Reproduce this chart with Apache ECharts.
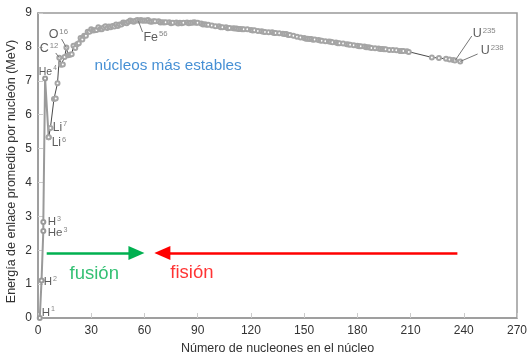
<!DOCTYPE html>
<html>
<head>
<meta charset="utf-8">
<script src="https://cdn.jsdelivr.net/npm/echarts@6/dist/echarts.min.js"></script>
<style>
html,body{margin:0;padding:0;background:#fff;}
#c{width:528px;height:354px;}
</style>
</head>
<body>
<div id="c"></div>
<script>
// Light nuclei (H1, H2, He3, H3, He4, Li6): [A, binding energy per nucleon MeV]
var lightA = [1, 2, 3, 3, 4, 6];
var lightE = [0, 1.11, 2.57, 2.83, 7.07, 5.33];

// Main curve from Li6 onward
var mainA = [6,7,9,10,11,12,13,14,15,16,17,18,19,20,21,22,23,24,25,26,27,28,29,30,31,32,33,34,35,36,37,38,39,40,41,42,43,44,45,46,47,48,49,50,51,52,53,54,55,56,57,58,59,60,61,62,63,64,65,66,
  68,69,70,71,72,74,75,76,78,79,80,81,82,84,85,86,87,88,89,90,92,93,94,95,96,98,100,102,103,104,106,107,108,110,111,112,113,114,115,116,118,120,121,122,124,126,127,128,130,132,133,134,136,138,139,140,141,142,144,146,148,150,151,152,153,154,155,156,158,159,160,162,164,165,166,168,169,170,172,174,175,176,178,180,181,182,184,185,186,187,188,190,192,193,194,195,196,198,200,202,204,205,206,208,209,
  222,226,230,232,234,235,238];
var mainE = [5.33,5.61,6.46,6.48,6.93,7.68,7.47,7.48,7.70,7.98,7.75,7.77,7.78,8.03,7.97,8.08,8.11,8.26,8.22,8.33,8.33,8.45,8.45,8.52,8.48,8.49,8.50,8.58,8.52,8.52,8.57,8.61,8.56,8.60,8.58,8.62,8.60,8.66,8.62,8.66,8.66,8.72,8.71,8.70,8.74,8.78,8.76,8.74,8.77,8.79,8.77,8.79,8.77,8.78,8.77,8.79,8.75,8.74,8.76,8.76,
  8.76,8.72,8.73,8.72,8.73,8.73,8.70,8.71,8.72,8.69,8.71,8.70,8.71,8.72,8.70,8.71,8.71,8.73,8.71,8.71,8.69,8.66,8.67,8.65,8.65,8.63,8.61,8.61,8.58,8.58,8.58,8.55,8.56,8.55,8.54,8.54,8.53,8.53,8.52,8.52,8.52,8.50,8.48,8.49,8.47,8.46,8.45,8.44,8.43,8.43,8.41,8.41,8.40,8.39,8.38,8.38,8.35,8.35,8.33,8.30,8.28,8.26,8.24,8.24,8.23,8.23,8.21,8.22,8.20,8.19,8.18,8.17,8.16,8.15,8.14,8.13,8.11,8.11,8.10,8.08,8.07,8.06,8.05,8.03,8.02,8.02,8.01,7.99,7.99,7.98,7.97,7.96,7.95,7.94,7.94,7.93,7.93,7.91,7.91,7.90,7.88,7.88,7.88,7.87,7.85,
  7.69,7.67,7.65,7.63,7.61,7.60,7.57];

// Nuclide labels: symbol, mass number (superscript), anchor [A, E] of label text
var nuclideSym = ['H','H','H','He','He','Li','Li','C','O','Fe','U','U'];
var nuclideSup = ['1','2','3','3','4','7','6','12','16','56','235','238'];
var nuclideAnchorA = [2.1, 3.2, 5.5, 5.5, 0.4, 8.3, 7.7, 1.0, 6.0, 59.4, 245, 249.5];
var nuclideAnchorE = [0.15, 1.06, 2.83, 2.5, 7.26, 5.63, 5.16, 7.94, 8.35, 8.29, 8.38, 7.88];
var nuclideFont = [11.5, 11.5, 11.5, 11.5, 10.5, 12, 12, 12.5, 12.5, 12.5, 12.5, 12.5];

// Leader lines: [fromA, fromE, toA, toE]
var leaders = [
  [10.0, 7.82, 12, 7.68],
  [13.3, 8.23, 16, 7.98],
  [56.6, 8.76, 58.9, 8.44],
  [235, 7.59, 244.5, 8.32],
  [238, 7.57, 247.8, 7.79]
];

// Process arrows: [fromA, toA, E] (toA = centre of the arrowhead)
var fusionArrow = [4.9, 55.5, 1.92];
var fissionArrow = [236.4, 70.1, 1.92];

// Text annotations
var notes = ['núcleos más estables', 'fusión', 'fisión'];
var noteA = [31.9, 17.8, 74.6];
var noteE = [7.43, 1.3, 1.33];

var xTicks = {min: 0, max: 270, interval: 30};
var yTicks = {min: 0, max: 9, interval: 1};

var FONT = 'Liberation Sans, Arial, sans-serif';
var chart = echarts.init(document.getElementById('c'), null, {renderer: 'canvas'});

function zip(a, b) { return a.map(function (v, i) { return [v, b[i]]; }); }

var labelData = nuclideSym.map(function (s, i) {
  var fs = nuclideFont[i];
  return {
    value: [nuclideAnchorA[i], nuclideAnchorE[i]],
    label: {
      formatter: '{b|' + s + '}{s|' + nuclideSup[i] + '}',
      rich: {
        b: {fontSize: fs, color: '#333', fontFamily: FONT, lineHeight: 14},
        s: {fontSize: fs * 0.62, color: '#666', fontFamily: FONT, lineHeight: 9, verticalAlign: 'top', padding: [0, 0, 0, 1]}
      }
    }
  };
});
var noteColors = ['#1673c9', '#00b050', '#ff0000'];
var noteSizes = [15.3, 18.5, 18.5];
var noteData = notes.map(function (t, i) {
  return {
    value: [noteA[i], noteE[i]],
    label: {formatter: t, color: noteColors[i], fontSize: noteSizes[i], fontFamily: FONT}
  };
});

var leaderLines = leaders.map(function (l) {
  return [{coord: [l[0], l[1]]}, {coord: [l[2], l[3]]}];
});

var option = {
  animation: false,
  backgroundColor: '#fff',
  grid: {left: 38, right: 11, top: 13, bottom: 36, show: true, borderColor: '#999', borderWidth: 1.5,
         containLabel: false, outerBoundsMode: 'none'},
  xAxis: {
    type: 'value', min: xTicks.min, max: xTicks.max, interval: xTicks.interval,
    name: 'Número de nucleones en el núcleo', nameLocation: 'middle', nameGap: 23,
    nameTextStyle: {color: '#333', fontSize: 12.5, fontFamily: FONT},
    axisLine: {show: true, lineStyle: {color: '#999', width: 1.5}},
    axisTick: {show: true, inside: true, length: 5, lineStyle: {color: '#ccc'}},
    axisLabel: {color: '#333', fontSize: 12, fontFamily: FONT, margin: 7},
    splitLine: {show: false}
  },
  yAxis: {
    type: 'value', min: yTicks.min, max: yTicks.max, interval: yTicks.interval,
    name: 'Energía de enlace promedio por nucleón (MeV)', nameLocation: 'middle', nameGap: 20,
    nameMoveOverlap: false,
    nameTextStyle: {color: '#333', fontSize: 12.5, fontFamily: FONT, padding: [0, 12, 0, 0]},
    axisLine: {show: true, lineStyle: {color: '#999', width: 1.5}},
    axisTick: {show: true, inside: true, length: 5, lineStyle: {color: '#ccc'}},
    axisLabel: {color: '#333', fontSize: 12, fontFamily: FONT, margin: 6},
    splitLine: {show: false}
  },
  series: [
    {
      type: 'line', data: zip(lightA, lightE),
      lineStyle: {color: '#9a9a9a', width: 2},
      symbol: 'emptyCircle', symbolSize: 4,
      itemStyle: {color: '#999'},
      z: 2
    },
    {
      type: 'line', data: zip(mainA, mainE),
      lineStyle: {color: '#4a4a4a', width: 1},
      symbol: 'emptyCircle', symbolSize: 4,
      itemStyle: {color: '#a5a5a5', borderWidth: 0.8},
      z: 3,
      markLine: {
        silent: true, symbol: ['none', 'none'], animation: false,
        lineStyle: {color: '#777', width: 1, type: 'solid'},
        label: {show: false},
        data: leaderLines
      }
    },
    {
      type: 'line', data: [], silent: true,
      markLine: {
        silent: true, animation: false,
        symbol: ['none', 'triangle'], symbolSize: [14, 16],
        label: {show: false},
        lineStyle: {type: 'solid'},
        data: [
          [{coord: [fusionArrow[0], fusionArrow[2]], lineStyle: {color: '#00b050', width: 2.5, type: 'solid'}, itemStyle: {color: '#00b050'}},
           {coord: [fusionArrow[1], fusionArrow[2]]}],
          [{coord: [fissionArrow[0], fissionArrow[2]], lineStyle: {color: '#ff0000', width: 2.5, type: 'solid'}, itemStyle: {color: '#ff0000'}},
           {coord: [fissionArrow[1], fissionArrow[2]]}]
        ]
      }
    },
    {
      type: 'scatter', data: labelData, symbolSize: 0, silent: true, z: 5,
      label: {show: true, position: 'right', distance: 0}
    },
    {
      type: 'scatter', data: noteData, symbolSize: 0, silent: true, z: 5,
      label: {show: true, position: 'right', distance: 0}
    }
  ]
};
chart.setOption(option);
</script>
</body>
</html>
